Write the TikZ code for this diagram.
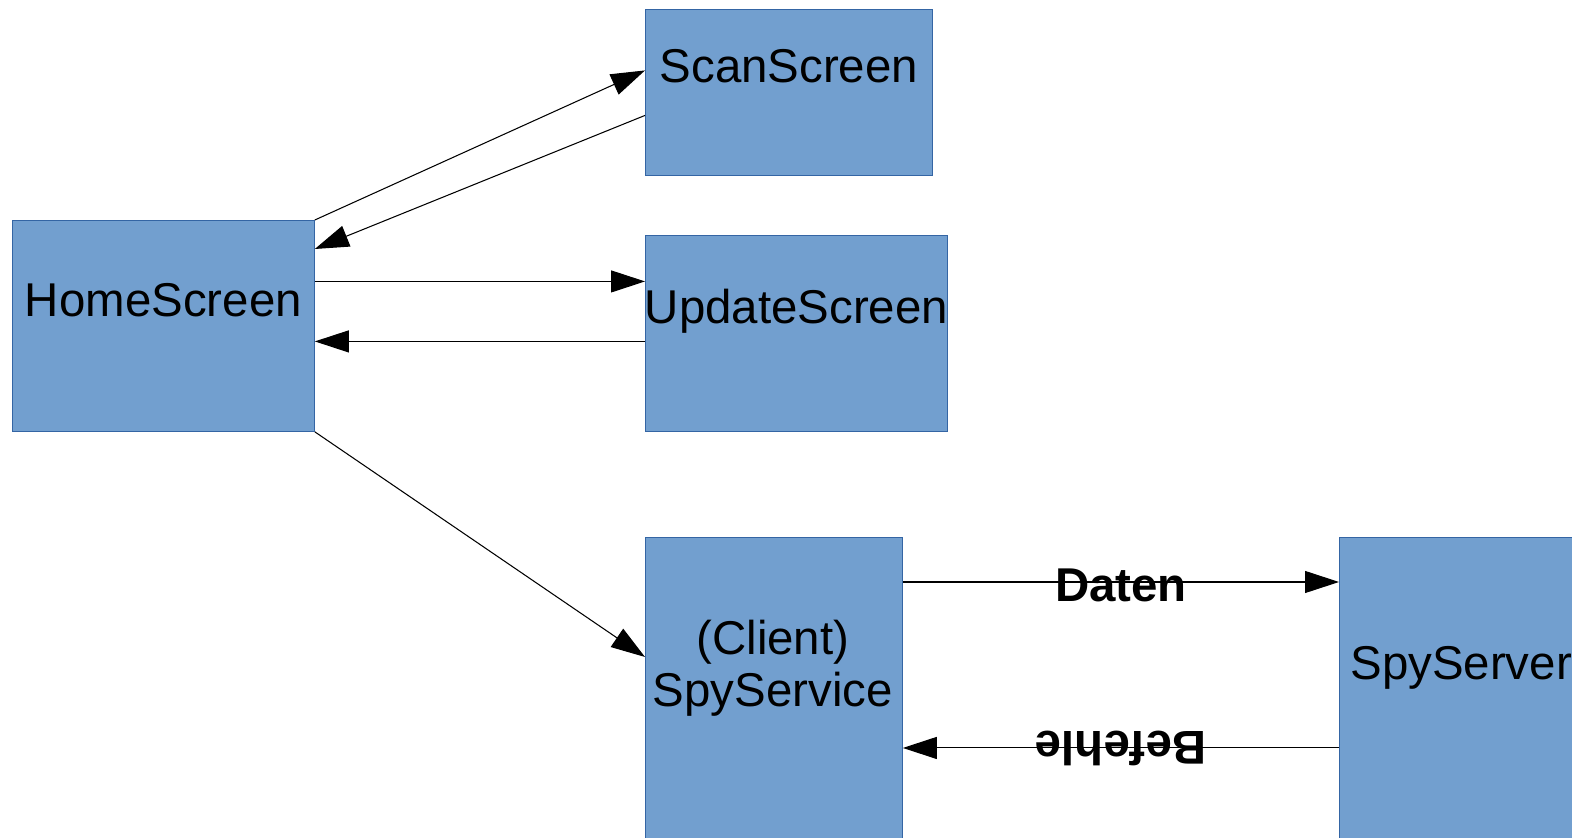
\documentclass[tikz,border=0pt]{standalone}
\usepackage{fontspec}
\setmainfont{Liberation Sans}
\usepackage{xcolor}
\usepackage{tikz}
\usetikzlibrary{arrows.meta, positioning}
\definecolor{screenfill}{HTML}{729FCF}
\definecolor{screenline}{HTML}{3465A4}
\tikzset{
  screen/.style={rectangle, draw=screenline, fill=screenfill, line width=0.5pt,
                 anchor=north west, inner sep=0pt},
  screentext/.style={font=\fontsize{27}{29.5}\selectfont, inner sep=0pt, align=center},
  flowlabel/.style={font=\fontsize{27}{29.5}\selectfont\bfseries, inner sep=0pt},
  arrow/.style={-{Triangle[length=0.68cm, width=0.44cm]}, line width=0.6pt},
}

\begin{document}
\begin{tikzpicture}[x=0.02cm, y=-0.02cm]
  \useasboundingbox (0,0) rectangle (1572,838);
  \clip (0,0) rectangle (1572,838);

  % screens of the app
  \node (home) [screen, minimum width=6.04cm, minimum height=4.22cm] at (12,220) {};
  \node (scan) [screen, minimum width=5.74cm, minimum height=3.32cm] at (645,9) {};
  \node (update) [screen, minimum width=6.04cm, minimum height=3.92cm] at (645,235) {};
  \node (service) [screen, minimum width=5.14cm, minimum height=6.6cm] at (645,537) {};
  \node (server) [screen, minimum width=5.2cm, minimum height=6.6cm] at (1339,537) {};

  \node [screentext, anchor=base] at ([yshift=0.18cm]home.center) {HomeScreen};
  \node [screentext, anchor=base] at ([yshift=0.2cm]scan.center) {ScanScreen};
  \node [screentext, anchor=base] at ([yshift=0.2cm]update.center) {UpdateScreen};
  \node [screentext] at ([xshift=-0.02cm, yshift=-2.62cm]service.north) {(Client)\\SpyService};
  \node [screentext, anchor=base west] at ([xshift=0.22cm, yshift=-2.86cm]server.north west) {SpyServer};

  % navigation
  \draw[arrow] (home.north east) -- ([yshift=0.44cm]scan.west);
  \draw[arrow] ([yshift=-0.46cm]scan.west) -- ([yshift=-0.58cm]home.north east);
  \draw[arrow] ([yshift=0.89cm]home.east) -- ([yshift=0.89cm]home.east -| update.west);
  \draw[arrow] ([yshift=-0.31cm]home.east -| update.west) -- ([yshift=-0.31cm]home.east);
  \draw[arrow] (home.south east) -- ([yshift=-2.4cm]service.north west);

  % client <-> server
  \draw[arrow] ([yshift=-0.9cm]service.north east) -- ([yshift=-0.9cm]service.north east -| server.west)
    node[flowlabel, midway, yshift=-0.06cm] {Daten};
  \draw[arrow] ([yshift=-4.22cm]service.north east -| server.west) -- ([yshift=-4.22cm]service.north east)
    node[flowlabel, midway, rotate=180] {Befehle};
\end{tikzpicture}
\end{document}
